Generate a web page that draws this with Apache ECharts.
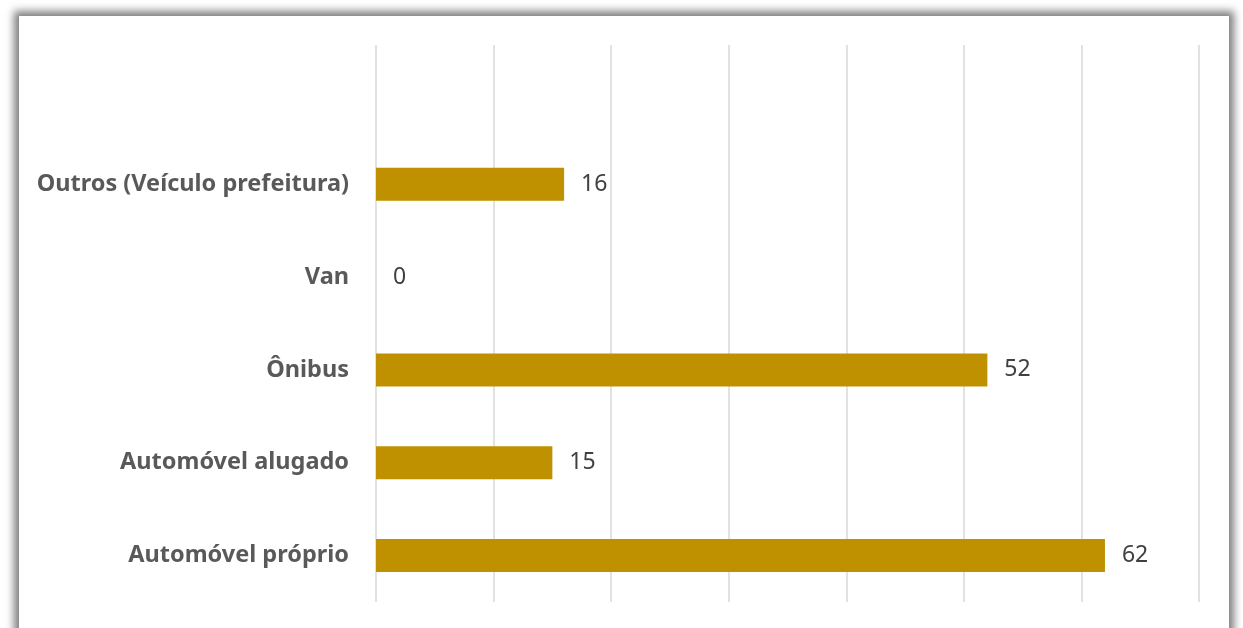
<!DOCTYPE html>
<html>
<head>
<meta charset="utf-8">
<script src="https://cdn.jsdelivr.net/npm/echarts@6/dist/echarts.min.js"></script>
<style>
  html, body { margin:0; padding:0; background:#fff; overflow:hidden; }
  #frame { position:absolute; left:19px; top:16px; width:1210px; height:700px; background:#fff;
           box-shadow: 0 0 8px 5px rgba(0,0,0,0.5); }
  #chart { position:absolute; left:0; top:0; width:1243px; height:628px; }
</style>
</head>
<body>
<div id="frame"></div>
<div id="chart"></div>
<script type="text/javascript">
// categorias de baixo para cima (a primeira vazia fica no topo)
var categorias = ['Automóvel próprio', 'Automóvel alugado', 'Ônibus', 'Van', 'Outros (Veículo prefeitura)', ''];
var valores = [62, 15, 52, 0, 16, null];

var myChart = echarts.init(document.getElementById('chart'));
var option = {
    animation: false,
    grid: { left: 376, right: 44, top: 45, bottom: 26 },
    xAxis: [{
        type: 'value',
        min: 0,
        max: 70,
        interval: 10,
        axisLabel: { show: false },
        axisLine: { show: false },
        axisTick: { show: false },
        splitLine: { lineStyle: { color: '#d9d9d9', width: 1.5 } }
    }],
    yAxis: [{
        type: 'category',
        data: categorias,
        axisLine: { show: false },
        axisTick: { show: false },
        axisLabel: {
            margin: 27,
            color: '#595959',
            fontSize: 23.5,
            fontWeight: 'bold',
            fontFamily: 'Noto Sans',
            padding: [8, 0, 0, 0]
        }
    }],
    series: [{
        type: 'bar',
        data: valores,
        barWidth: 33,
        itemStyle: { color: '#bf9000' },
        label: {
            show: true,
            position: 'right',
            distance: 17,
            color: '#404040',
            fontSize: 23,
            fontFamily: 'Noto Sans',
            padding: [8, 0, 0, 0]
        }
    }]
};
myChart.setOption(option);
</script>
</body>
</html>
